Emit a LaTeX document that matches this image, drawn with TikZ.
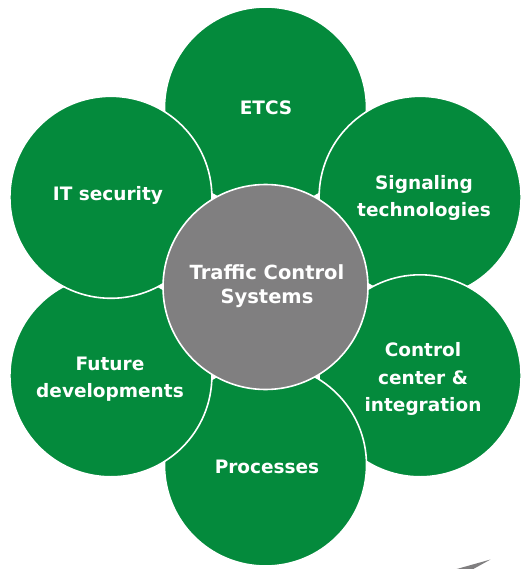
\documentclass[tikz,border=0pt]{standalone}
\usepackage{fontspec}
\setmainfont{DejaVu Sans}
\definecolor{petalgreen}{RGB}{4,138,60}
\definecolor{hubgray}{RGB}{128,127,128}
\tikzset{
  petal/.style={circle, fill=petalgreen, draw=white, line width=1.6pt, minimum size=202pt, inner sep=0pt},
  hub/.style={circle, fill=hubgray, draw=white, line width=1.6pt, minimum size=205pt, inner sep=0pt},
  lbl/.style={text=white, font=\bfseries\fontsize{18.5}{27.5}\selectfont, align=center, inner sep=0pt},
  hublbl/.style={text=white, font=\bfseries\fontsize{19.5}{23.5}\selectfont, align=center, inner sep=0pt},
}
\begin{document}
\begin{tikzpicture}[x=1pt,y=-1pt]
\useasboundingbox (0,0) rectangle (525,569);
% petals, drawn in stacking order
\node[petal] (etcs) at (265.5,108) {};
\node[petal] (sig)  at (420.1,197.3) {};
\node[petal] (ctrl) at (420.1,375.8) {};
\node[petal] (proc) at (265.5,465) {};
\node[petal] (fut)  at (110.9,375.8) {};
\node[petal] (its)  at (110.9,197.3) {};
% hub
\node[hub] (tcs) at (265.5,287) {};
% labels
\node[lbl] (etcsT) at (266,108) {ETCS};
\node[lbl] (sigT)  at (424,198) {Signaling\\technologies};
\node[lbl] (ctrlT) at (423,379) {Control\\center \&\\integration};
\node[lbl] (procT) at (267,467) {Processes};
\node[lbl] (futT)  at (110,379) {Future\\developments};
\node[lbl] (itsT)  at (108,195) {IT security};
\node[hublbl] (tcsT) at (267,286) {Traffic Control\\Systems};
% grey arrow fragment at the bottom edge
\fill[hubgray] (456.7,569) -- (490.5,559.5) -- (473.3,569) -- cycle;
\end{tikzpicture}
\end{document}
